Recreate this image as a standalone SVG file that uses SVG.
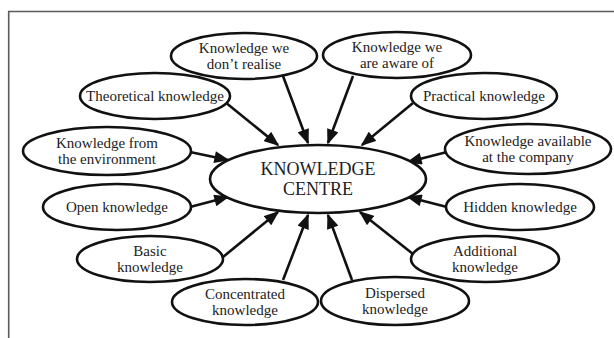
<svg xmlns="http://www.w3.org/2000/svg" width="614" height="338" viewBox="0 0 614 338">
<style>
.n ellipse{fill:#fff;stroke:#111;stroke-width:2.6}
text{font-family:"Liberation Serif","Times New Roman",serif;font-size:15px;fill:#222;text-anchor:middle}
.big{font-size:18px}
.c line{stroke:#111;stroke-width:2.6;marker-end:url(#ah)}
</style>
<defs>
<marker id="ah" markerUnits="userSpaceOnUse" markerWidth="16" markerHeight="12" viewBox="0 0 14 11" refX="12.5" refY="5.5" orient="auto">
<path d="M0,0 L14,5.5 L0,11 Z" fill="#111"/>
</marker>
</defs>
<rect width="614" height="338" fill="#fff"/>
<path d="M8.7,338 V11.5 H614" fill="none" stroke="#5a5a5a" stroke-width="1.6"/>
<g id="connectors" class="c">
<line x1="283" y1="76" x2="308" y2="143"/>
<line x1="353" y1="76" x2="328" y2="143"/>
<line x1="225" y1="102" x2="278" y2="145"/>
<line x1="413" y1="103" x2="362" y2="145"/>
<line x1="190" y1="152" x2="228" y2="160"/>
<line x1="447" y1="152" x2="408" y2="162"/>
<line x1="190" y1="207" x2="228" y2="197"/>
<line x1="447" y1="207" x2="408" y2="197"/>
<line x1="223" y1="257" x2="278" y2="212"/>
<line x1="413" y1="254" x2="360" y2="212"/>
<line x1="283" y1="280" x2="308" y2="215"/>
<line x1="352" y1="280" x2="328" y2="215"/>
</g>
<g id="centre" class="n"><ellipse cx="318" cy="179" rx="108" ry="34"/><text class="big" x="318" y="175">KNOWLEDGE</text><text class="big" x="318" y="195">CENTRE</text></g>
<g id="n1" class="n"><ellipse cx="244" cy="56" rx="73" ry="23"/><text x="244" y="53">Knowledge we</text><text x="244" y="69">don’t realise</text></g>
<g id="n2" class="n"><ellipse cx="397" cy="55" rx="74" ry="23"/><text x="397" y="52">Knowledge we</text><text x="397" y="68">are aware of</text></g>
<g id="n3" class="n"><ellipse cx="155" cy="96" rx="75" ry="23"/><text x="155" y="101">Theoretical knowledge</text></g>
<g id="n4" class="n"><ellipse cx="484" cy="96" rx="73" ry="23"/><text x="484" y="101">Practical knowledge</text></g>
<g id="n5" class="n"><ellipse cx="107" cy="151" rx="84" ry="24"/><text x="107" y="148">Knowledge from</text><text x="107" y="164">the environment</text></g>
<g id="n6" class="n"><ellipse cx="528" cy="149" rx="83" ry="25"/><text x="528" y="146">Knowledge available</text><text x="528" y="162">at the company</text></g>
<g id="n7" class="n"><ellipse cx="117" cy="207" rx="74" ry="23"/><text x="117" y="212">Open knowledge</text></g>
<g id="n8" class="n"><ellipse cx="520" cy="207" rx="74" ry="23"/><text x="520" y="212">Hidden knowledge</text></g>
<g id="n9" class="n"><ellipse cx="150" cy="259" rx="73" ry="23"/><text x="150" y="256">Basic</text><text x="150" y="272">knowledge</text></g>
<g id="n10" class="n"><ellipse cx="485" cy="259" rx="74" ry="23"/><text x="485" y="256">Additional</text><text x="485" y="272">knowledge</text></g>
<g id="n11" class="n"><ellipse cx="245" cy="302" rx="73" ry="23"/><text x="245" y="299">Concentrated</text><text x="245" y="315">knowledge</text></g>
<g id="n12" class="n"><ellipse cx="395" cy="301" rx="74" ry="24"/><text x="395" y="298">Dispersed</text><text x="395" y="314">knowledge</text></g>
</svg>
